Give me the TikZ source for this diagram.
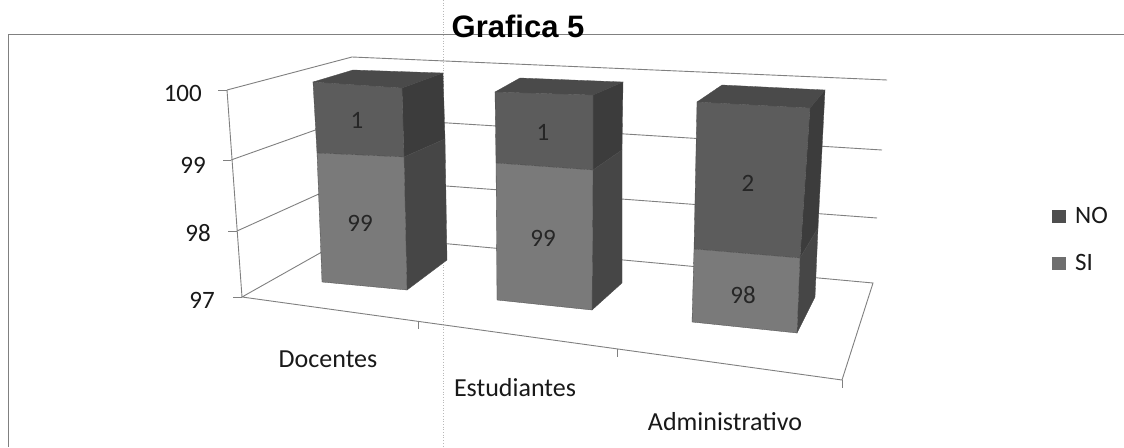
\documentclass[tikz,border=0pt]{standalone}
\usepackage{fontspec}
\setmainfont{Carlito}
\newfontfamily\titlefont{Liberation Sans}
\definecolor{noFront}{HTML}{5C5C5C}
\definecolor{siFront}{HTML}{7A7A7A}
\definecolor{noSide}{HTML}{3C3C3C}
\definecolor{siSide}{HTML}{464646}
\definecolor{barTop}{HTML}{4A4A4A}
\definecolor{gridGray}{HTML}{808080}
\begin{document}
\begin{tikzpicture}[x=1pt,y=-1pt,
  gridline/.style={draw=gridGray,line width=0.9pt},
  framel/.style={draw=gridGray,line width=0.9pt},
  lbl/.style={font=\fontsize{25}{30}\selectfont,inner sep=0pt,text=black!90},
  catlbl/.style={font=\fontsize{26}{31}\selectfont,inner sep=0pt,text=black!90,anchor=base},
  vallbl/.style={font=\fontsize{25}{30}\selectfont,inner sep=0pt,text=black!85,anchor=base},
  face/.style={line width=0.3pt,draw=black!70}]
\useasboundingbox (0,0) rectangle (1124,447);
\fill[white] (0,0) rectangle (1124,447);
% scan artifact
\draw[gray!55,dotted,line width=0.7pt] (443,0) -- (443,447);
% frame
\draw[framel] (8,447) -- (8,34) -- (1124,34);
% title
\node[font=\titlefont\bfseries\fontsize{31}{36}\selectfont,anchor=base,inner sep=0pt] (title) at (518,37) {Grafica 5};
% coordinates of walls
\coordinate (f100) at (227,90);
\coordinate (f99) at (231,160);
\coordinate (f98) at (237,231);
\coordinate (f97) at (242,297);
\coordinate (b100) at (352,57);
\coordinate (b99) at (352,117);
\coordinate (b98) at (352,179);
\coordinate (b97) at (352,235);
\coordinate (r100) at (887,80);
\coordinate (r99) at (882,150);
\coordinate (r98) at (877,218);
\coordinate (r97) at (873,283);
\coordinate (fr) at (842,380);
% gridlines
\foreach \v in {100,99,98}{
  \draw[gridline] (f\v) -- (b\v) -- (r\v);
}
\draw[gridline] (f97) -- (b97) -- (r97) -- (fr) -- cycle;
\draw[gridline] (f100) -- (f97);
% ticks
\draw[gridline] (218,90) -- (f100);
\draw[gridline] (223,160) -- (f99);
\draw[gridline] (228,231) -- (f98);
\draw[gridline] (233,297) -- (f97);
\draw[gridline] (418,321) -- (418,329);
\draw[gridline] (617,349) -- (617,357);
\draw[gridline] (842,380) -- (842,388);
% axis labels
\node[lbl,anchor=base east] (y100) at (202,101) {100};
\node[lbl,anchor=base east] (y99) at (206,173) {99};
\node[lbl,anchor=base east] (y98) at (211,241) {98};
\node[lbl,anchor=base east] (y97) at (215,308) {97};
% ---- bar 1 (Docentes)
\fill[face,fill=barTop] (313,82) -- (353,70) -- (443,73) -- (402,88) -- cycle;
\fill[face,fill=noSide] (402,88) -- (443,73) -- (445,139) -- (404,157) -- cycle;
\fill[face,fill=siSide] (404,157) -- (445,139) -- (447,260) -- (407,290) -- cycle;
\fill[face,fill=noFront] (313,82) -- (402,88) -- (404,157) -- (317,153) -- cycle;
\fill[face,fill=siFront] (317,153) -- (404,157) -- (407,290) -- (322,282) -- cycle;
\node[vallbl] (d1) at (357,128) {1};
\node[vallbl] (d99) at (360,231) {99};
% ---- bar 2 (Estudiantes)
\fill[face,fill=barTop] (495,92) -- (520,78) -- (623,82) -- (593,95) -- cycle;
\fill[face,fill=noSide] (593,95) -- (623,82) -- (622,150) -- (593,170) -- cycle;
\fill[face,fill=siSide] (593,170) -- (622,150) -- (622,283) -- (592,310) -- cycle;
\fill[face,fill=noFront] (495,92) -- (593,95) -- (593,170) -- (496,163) -- cycle;
\fill[face,fill=siFront] (496,163) -- (593,170) -- (592,310) -- (497,300) -- cycle;
\node[vallbl] (e1) at (543,140) {1};
\node[vallbl] (e99) at (543,246) {99};
% ---- bar 3 (Administrativo)
\fill[face,fill=barTop] (697,102) -- (722,85) -- (825,90) -- (810,108) -- cycle;
\fill[face,fill=noSide] (810,108) -- (825,90) -- (818,228) -- (800,258) -- cycle;
\fill[face,fill=siSide] (800,258) -- (818,228) -- (815,297) -- (797,333) -- cycle;
\fill[face,fill=noFront] (697,102) -- (810,108) -- (800,258) -- (694,249) -- cycle;
\fill[face,fill=siFront] (694,249) -- (800,258) -- (797,333) -- (692,322) -- cycle;
\node[vallbl] (a2) at (748,191) {2};
\node[vallbl] (a98) at (743,303) {98};
% category labels
\node[catlbl] (cat1) at (328,367) {Docentes};
\node[catlbl] (cat2) at (515,396) {Estudiantes};
\node[catlbl] (cat3) at (725,430) {Administrativo};
% legend
\fill[noFront!85!black] (1052,210) rectangle (1066,223);
\node[lbl,anchor=base west] (legNO) at (1075,223) {NO};
\fill[siFront!90!black] (1052,257) rectangle (1066,270);
\node[lbl,anchor=base west] (legSI) at (1075,270) {SI};
\end{tikzpicture}
\end{document}
